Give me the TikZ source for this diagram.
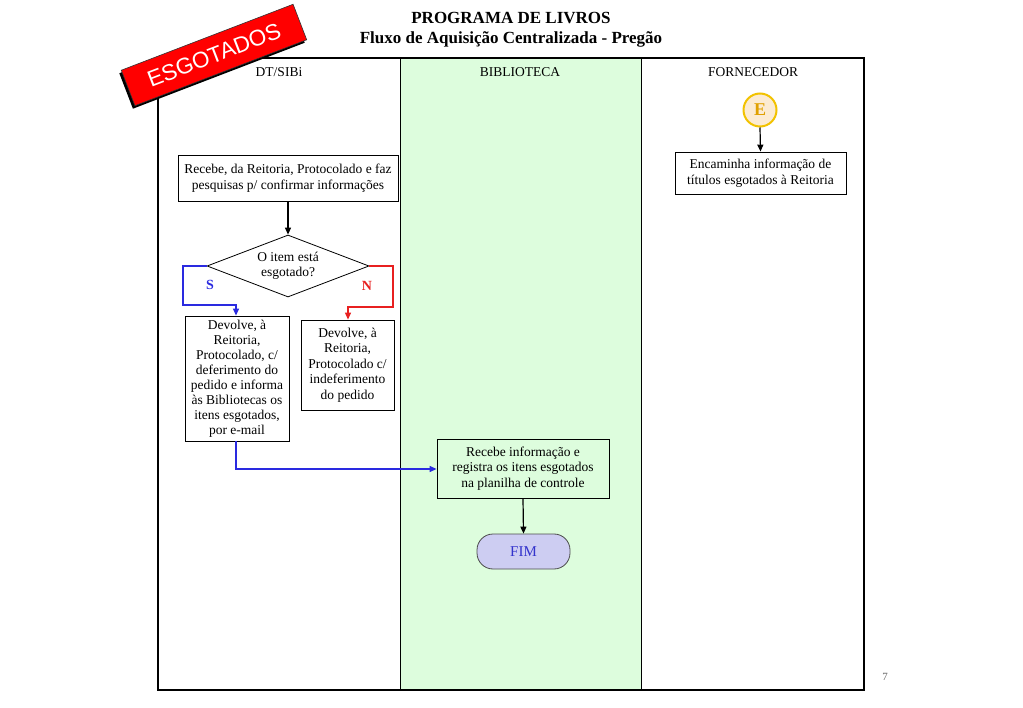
\documentclass[tikz,border=0pt]{standalone}
\usepackage{fontspec}
\setmainfont{Liberation Serif}
\newfontfamily\bannerfont{Liberation Sans}
\usetikzlibrary{shapes.geometric,arrows.meta}
\definecolor{lanegreen}{HTML}{DDFDDD}
\definecolor{fimfill}{HTML}{CDCDF2}
\definecolor{fimtext}{HTML}{3333CC}
\definecolor{egold}{HTML}{F2C200}
\definecolor{efill}{HTML}{FCEBD2}
\definecolor{etext}{HTML}{E0A000}
\definecolor{sblue}{HTML}{2A2AE0}
\definecolor{nred}{HTML}{E82020}
\tikzset{
  every node/.style={font=\fontsize{13.5}{15.5}\selectfont},
  procbox/.style={draw=black, line width=0.8pt, fill=white, align=center, inner sep=0pt},
  lanebox/.style={draw=black, line width=0.8pt, align=center, inner sep=0pt},
  flow/.style={line width=1.2pt, -{Triangle[length=7pt,width=6pt]}},
  header/.style={font=\fontsize{13.5}{16}\selectfont},
}
\begin{document}
\begin{tikzpicture}[x=1pt,y=-1pt]
\useasboundingbox (0,0) rectangle (1023,708);
% title
\node[font=\fontsize{17}{20}\bfseries\selectfont] (t1) at (511,18) {PROGRAMA DE LIVROS};
\node[font=\fontsize{17}{20}\bfseries\selectfont] (t2) at (511,39) {Fluxo de Aquisição Centralizada - Pregão};
% lanes
\fill[lanegreen] (400,58) rectangle (641,690);
\draw[line width=0.8pt] (400,58) -- (400,690);
\draw[line width=0.8pt] (641,58) -- (641,690);
\draw[line width=2.6pt] (158,58) rectangle (864,690);
\node[header] (h1) at (279,72) {DT/SIBi};
\node[header] (h2) at (520,72) {BIBLIOTECA};
\node[header] (h3) at (753,72) {FORNECEDOR};
% boxes
\node[procbox, minimum width=220pt, minimum height=46pt] (b1) at (288,178)
  {Recebe, da Reitoria, Protocolado e faz\\pesquisas p/ confirmar informações};
\node[diamond, draw=black, line width=0.8pt, fill=white, aspect=2.6, inner sep=1pt, align=center,
      minimum width=162pt, minimum height=62pt] (d1) at (288,266) {O item está\\esgotado?};
\node[procbox, minimum width=104pt, minimum height=125pt, font=\fontsize{13.5}{15}\selectfont] (bs) at (237,378.5)
  {Devolve, à\\Reitoria,\\Protocolado, c/\\deferimento do\\pedido e informa\\às Bibliotecas os\\itens esgotados,\\por e-mail};
\node[procbox, minimum width=93pt, minimum height=90pt] (bn) at (347.5,365)
  {Devolve, à\\Reitoria,\\Protocolado c/\\indeferimento\\do pedido};
\node[lanebox, fill=lanegreen, minimum width=172pt, minimum height=59pt] (bb) at (523,468.5)
  {Recebe informação e\\registra os itens esgotados\\na planilha de controle};
\node[draw=black!70, line width=0.8pt, fill=fimfill, rounded corners=16pt, minimum width=93pt,
      minimum height=35pt, text=fimtext, font=\fontsize{15}{16}\selectfont] (fim) at (523.5,551.5) {FIM};
\node[circle, draw=egold, line width=2pt, fill=efill, minimum size=33pt, inner sep=0pt,
      text=etext, font=\fontsize{18}{18}\bfseries\selectfont] (e) at (760,110) {E};
\node[procbox, minimum width=171pt, minimum height=42pt] (bf) at (760.5,173)
  {Encaminha informação de\\títulos esgotados à Reitoria};
% connectors
\draw[flow] (b1.south) -- (d1.north);
\draw[flow, draw=sblue, line width=1.1pt] (d1.west) -- (183,266) -- (183,305) -- (236,305) -- (bs.north -| 236,0);
\draw[flow, draw=nred, line width=1.1pt] (d1.east) -- (393,266) -- (393,307) -- (348,307) -- (bn.north -| 348,0);
\node[text=sblue, font=\fontsize{14}{16}\bfseries\selectfont] (ls) at (210,285) {S};
\node[text=nred, font=\fontsize{14}{16}\bfseries\selectfont] (ln) at (367,286) {N};
\draw[flow, draw=sblue, line width=1.1pt] (bs.south -| 236,0) -- (236,469) -- (bb.west |- 0,469);
\draw[flow] (bb.south) -- (fim.north);
\draw[flow] (e.south) -- (bf.north);
% page number
\node[text=black!60, font=\fontsize{11}{12}\selectfont] (pg) at (885,677) {7};
% banner
\node[fill=black, minimum width=184pt, minimum height=38pt, inner sep=0pt, rotate=21]
  (bshadow) at (212,58) {};
\node[draw=black!80, line width=0.6pt, fill=red, minimum width=184pt, minimum height=38pt, inner sep=0pt,
      text=white, font=\bannerfont\fontsize{22.5}{24}\selectfont, rotate=21] (banner) at (214,55) {ESGOTADOS};
\end{tikzpicture}
\end{document}
